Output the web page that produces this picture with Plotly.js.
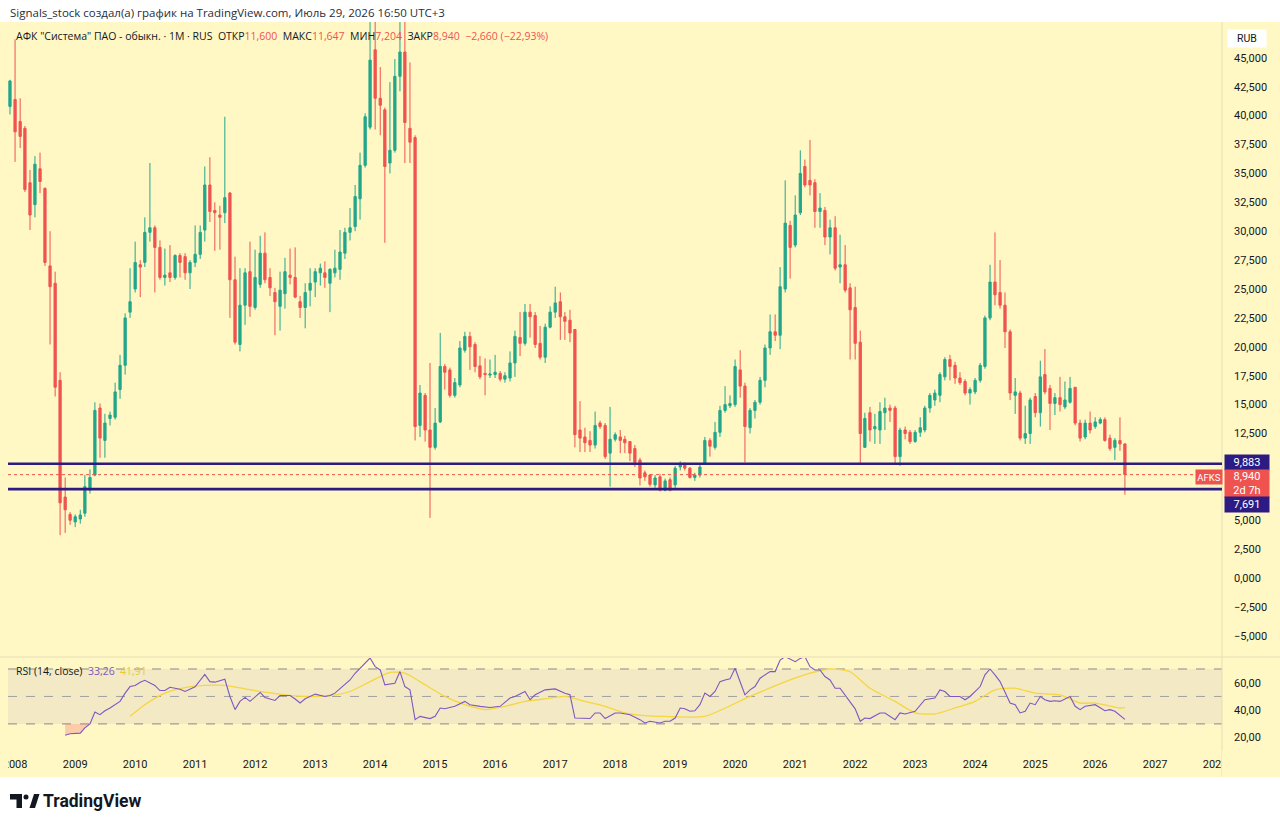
<!DOCTYPE html>
<html>
<head>
<meta charset="utf-8">
<script src="https://cdn.plot.ly/plotly-3.0.1.min.js"></script>
<style>
  html, body { margin: 0; padding: 0; background: #ffffff; }
  #chart { width: 1280px; height: 827px; }
</style>
</head>
<body>
<div id="chart"></div>
<script>
// AFKS monthly bars, first bar = December 2007
const FIRST_YEAR = 2007;
const FIRST_MONTH = 12;

const opens = [
  40.8, 41.4, 39.5, 38.9, 34.2, 32.3, 35.4, 33.7, 27.0, 25.5, 17.1, 7.0, 5.5,
  4.85, 5.1, 5.6, 7.6, 8.9, 14.7, 11.9, 13.8, 13.9, 16.3, 18.4, 23.0,
  25.0, 27.1, 27.3, 29.9, 30.3, 28.6, 26.0, 26.4, 26.0, 27.9, 27.8, 26.4,
  27.3, 28.0, 30.1, 34.0, 31.8, 31.4, 31.6, 33.3, 25.8, 20.2, 23.6, 26.5,
  23.4, 25.4, 28.1, 26.0, 24.7, 23.5, 24.6, 26.2, 26.0, 23.9, 23.4, 24.9,
  25.6, 26.4, 26.4, 25.5, 26.4, 26.7, 28.1, 29.9, 30.4, 32.8, 35.7, 39.0,
  45.7, 41.5, 40.5, 35.9, 37.0, 43.4, 45.5, 38.9, 38.1, 13.2, 15.8, 12.8,
  11.3, 13.5, 18.3, 18.0, 15.8, 16.7, 19.7, 20.9, 20.2, 18.35, 17.7, 17.55,
  17.6, 17.7, 17.2, 17.3, 18.6, 20.8, 20.3, 23.0, 22.7, 20.3, 19.1, 21.7,
  23.0, 23.9, 22.6, 22.3, 21.5, 12.8, 12.2, 11.9, 11.5, 13.4, 13.2, 10.8,
  12.0, 12.2, 12.0, 11.8, 11.2, 10.2, 9.1, 8.9, 8.05, 8.75, 7.6, 8.5,
  8.05, 9.6, 9.8, 9.5, 8.7, 8.9, 9.95, 11.9, 11.3, 12.6, 14.5, 14.9,
  15.0, 18.0, 16.6, 13.0, 14.5, 15.2, 17.1, 19.9, 21.3, 21.0, 25.0, 30.5, 28.8,
  31.6, 35.6, 34.4, 34.2, 31.7, 31.8, 29.5, 30.3, 26.9, 27.1, 25.1, 23.4, 20.4,
  11.3, 14.3, 12.9, 12.8, 14.3, 14.7, 14.7, 10.5, 12.8, 12.6, 11.8, 12.6,
  12.8, 14.7, 15.4, 15.8, 17.4, 18.9, 18.4, 17.3, 17.0, 16.0, 16.1, 17.1,
  18.3, 22.5, 25.6, 24.7, 23.6, 21.3, 15.8, 16.0, 12.1, 12.5, 15.7, 14.3,
  17.6, 16.4, 15.1, 15.6, 14.8, 15.2, 16.5, 13.4, 12.2, 13.4, 13.1, 13.4,
  13.7, 12.1, 11.3, 11.9, 11.600
];
const highs = [
  43.1, 46.6, 41.5, 39.1, 35.3, 36.5, 36.8, 33.8, 30.0, 26.5, 17.8, 8.7, 5.7,
  5.5, 5.9, 8.9, 9.4, 15.2, 15.1, 14.2, 14.4, 16.9, 19.3, 22.9, 26.8,
  29.1, 27.5, 31.2, 35.9, 30.5, 29.2, 28.5, 28.8, 28.0, 28.1, 28.1, 27.5,
  30.5, 30.5, 35.6, 36.4, 32.5, 32.2, 39.9, 33.4, 27.8, 26.8, 26.8, 29.1,
  28.4, 29.6, 29.9, 26.8, 25.1, 26.5, 27.7, 28.5, 28.6, 24.4, 25.5, 26.8,
  26.8, 27.2, 27.4, 26.8, 28.4, 30.1, 30.3, 32.0, 34.0, 36.8, 40.2, 49.5,
  49.5, 44.2, 40.7, 42.9, 44.9, 49.5, 49.5, 44.6, 38.3, 16.7, 16.0, 18.6,
  14.7, 21.2, 18.5, 18.2, 17.3, 20.5, 21.3, 21.3, 20.4, 19.2, 19.0, 18.9,
  19.3, 17.9, 17.8, 19.6, 21.4, 23.0, 23.7, 23.7, 23.0, 21.8, 22.0, 23.5,
  25.2, 24.7, 23.0, 23.2, 21.5, 15.3, 13.0, 12.7, 14.4, 13.6, 13.4, 14.8,
  12.6, 12.8, 12.3, 11.8, 11.5, 10.4, 9.3, 9.0, 8.9, 9.0, 8.6, 8.7,
  9.7, 10.1, 10.0, 9.6, 9.1, 9.8, 12.2, 12.1, 13.5, 14.9, 16.6, 15.8,
  18.9, 19.7, 16.9, 14.7, 15.4, 17.4, 20.2, 22.8, 22.8, 26.9, 34.4, 30.9, 33.1,
  37.0, 36.2, 37.9, 34.5, 33.3, 32.1, 31.0, 31.3, 29.7, 28.8, 25.5, 25.2, 21.4,
  14.3, 14.8, 14.2, 15.2, 15.6, 15.0, 14.9, 13.0, 13.1, 12.8, 12.8, 13.9,
  14.9, 16.0, 16.3, 17.8, 19.1, 19.3, 18.7, 17.8, 17.2, 16.5, 17.3, 18.6,
  22.7, 27.1, 29.9, 27.5, 24.7, 21.5, 17.3, 16.2, 14.9, 15.6, 16.0, 18.8,
  19.8, 16.7, 16.0, 17.4, 17.0, 17.4, 16.5, 13.7, 13.7, 14.4, 13.9, 13.9,
  13.9, 12.4, 12.1, 13.9, 11.647
];
const lows = [
  40.1, 36.0, 37.2, 33.4, 30.1, 31.2, 33.3, 27.0, 20.2, 15.7, 3.7, 3.9, 4.6,
  4.4, 4.7, 5.3, 7.3, 8.8, 10.4, 10.4, 13.2, 13.7, 15.5, 17.6, 22.5,
  24.7, 24.3, 26.9, 29.1, 24.7, 25.8, 25.3, 25.6, 25.8, 26.0, 25.8, 25.0,
  26.9, 27.6, 29.1, 30.8, 28.3, 28.4, 30.7, 22.5, 20.2, 19.6, 21.9, 22.6,
  23.2, 25.1, 25.5, 24.4, 21.0, 21.4, 23.3, 25.4, 24.2, 22.5, 21.6, 23.5,
  24.3, 25.3, 25.1, 23.0, 26.0, 25.8, 27.6, 29.2, 30.0, 31.0, 35.5, 38.8,
  38.8, 38.3, 29.0, 35.0, 36.8, 42.1, 35.9, 35.9, 11.9, 12.2, 11.8, 5.2,
  11.1, 13.4, 16.3, 15.6, 15.6, 16.5, 19.5, 18.0, 17.8, 17.2, 15.8, 17.3,
  17.3, 17.0, 16.9, 17.0, 17.4, 19.2, 20.1, 20.8, 19.9, 18.9, 18.6, 21.6,
  22.5, 20.6, 20.6, 20.4, 11.3, 10.9, 10.9, 10.9, 11.2, 12.9, 10.3, 7.9,
  11.8, 10.8, 10.8, 10.1, 9.6, 8.0, 8.4, 7.9, 7.8, 7.5, 7.5, 7.5,
  7.7, 9.3, 9.3, 8.6, 8.4, 8.7, 9.8, 10.5, 11.1, 12.2, 14.3, 14.7,
  14.8, 15.6, 10.0, 12.5, 13.8, 15.0, 16.5, 19.3, 20.5, 19.8, 24.7, 25.9, 28.6,
  31.4, 33.8, 33.1, 30.3, 30.3, 28.8, 28.0, 26.6, 25.5, 24.7, 18.9, 18.9, 9.9,
  11.3, 11.8, 11.6, 11.6, 12.8, 13.5, 9.9, 9.7, 12.0, 11.6, 11.7, 12.2,
  12.6, 14.3, 14.9, 15.2, 17.1, 17.1, 16.8, 16.7, 15.8, 15.0, 15.9, 16.9,
  18.1, 22.3, 23.6, 23.3, 19.9, 15.4, 14.2, 11.9, 11.6, 11.6, 13.9, 13.1,
  15.9, 12.8, 14.1, 14.4, 14.6, 15.1, 13.2, 11.8, 12.0, 12.5, 12.9, 13.3,
  11.8, 11.0, 10.2, 11.0, 7.204
];
const closes = [
  43.0, 38.6, 38.2, 33.6, 31.4, 35.8, 34.3, 27.3, 25.2, 16.5, 6.5, 5.9, 5.0,
  5.3, 5.45, 7.9, 8.7, 14.5, 12.1, 13.4, 14.1, 16.1, 18.4, 22.5, 23.9,
  27.3, 26.9, 29.9, 30.3, 28.6, 26.0, 26.2, 26.0, 27.9, 27.3, 26.4, 27.3,
  28.0, 29.9, 34.0, 31.7, 31.6, 31.2, 32.9, 25.8, 20.4, 23.6, 26.4, 23.5,
  26.0, 28.1, 25.8, 25.1, 23.9, 24.9, 26.5, 26.0, 24.3, 23.4, 24.7, 25.5,
  26.5, 26.8, 26.0, 26.7, 26.8, 28.2, 29.9, 30.3, 33.0, 35.7, 39.9, 44.8,
  41.5, 40.9, 35.6, 37.0, 43.4, 45.5, 39.4, 37.7, 13.1, 16.0, 12.8, 11.3,
  13.4, 18.3, 17.8, 15.8, 16.9, 19.9, 20.9, 20.0, 18.3, 17.4, 17.6, 17.65,
  17.8, 17.2, 17.5, 18.6, 20.9, 20.3, 23.0, 22.6, 20.2, 19.1, 21.7, 23.0,
  23.8, 22.6, 22.2, 21.2, 12.4, 12.1, 11.7, 11.5, 13.2, 13.1, 10.5, 12.0,
  12.4, 11.9, 11.7, 10.8, 10.0, 8.65, 8.75, 8.1, 8.65, 7.6, 8.4, 7.6,
  9.5, 9.85, 9.5, 8.7, 8.9, 9.6, 11.9, 11.4, 12.6, 14.5, 15.0, 15.1,
  18.3, 16.6, 13.1, 14.5, 15.2, 17.1, 19.9, 21.3, 21.0, 25.2, 30.7, 28.6, 31.4,
  35.0, 34.0, 34.0, 31.7, 32.0, 29.5, 30.3, 26.8, 27.1, 24.9, 23.2, 20.3, 12.5,
  13.8, 12.8, 13.1, 14.4, 14.7, 14.5, 10.5, 12.8, 12.5, 11.8, 12.6, 13.0,
  14.7, 15.8, 16.0, 17.6, 18.9, 18.3, 17.3, 16.9, 16.0, 16.3, 17.1, 18.4,
  22.5, 25.6, 24.5, 23.6, 21.3, 16.0, 16.1, 12.1, 12.5, 15.4, 14.3, 17.4,
  16.1, 15.1, 15.6, 15.0, 15.4, 16.4, 13.4, 12.1, 13.4, 12.8, 13.5, 13.7,
  11.9, 11.2, 11.9, 11.6, 8.940
];

// RSI (14, close): bar number -> value
const rsiBars = [
  11, 12, 14, 15, 16, 17, 18, 19, 20, 22, 23, 24, 25, 26, 27, 29, 30, 31, 32, 34,
  35, 36, 37, 39, 40, 41, 43, 44, 45, 46, 47, 48, 50, 51, 53, 54, 56, 57, 58, 59,
  61, 63, 64, 65, 67, 68, 69, 70, 72, 73, 74, 75, 77, 78, 79, 80, 81, 82, 84, 85,
  86, 87, 89, 91, 92, 94, 96, 98, 100, 101, 103, 104, 105, 107, 109, 111, 112, 113, 114, 116,
  117, 118, 119, 121, 122, 124, 126, 127, 128, 130, 131, 132, 133, 134, 135, 136, 137, 138, 139, 140,
  141, 142, 143, 144, 145, 147, 148, 149, 150, 152, 153, 154, 155, 157, 158, 159, 160, 161, 162, 163,
  164, 165, 166, 167, 168, 169, 170, 171, 172, 174, 175, 177, 178, 179, 181, 182, 183, 185, 186, 187,
  188, 190, 191, 192, 194, 195, 196, 197, 198, 200, 201, 202, 203, 204, 205, 206, 207, 208, 209, 210,
  212, 213, 214, 215, 216, 217, 219, 220, 221, 223
];
const rsiValues = [
  21.8, 22.8, 23.3, 27.1, 30.0, 38.7, 36.7, 39.6, 41.6, 46.4, 52.4, 57.2, 58.0, 60.4, 61.8, 58.0, 54.3, 54.3, 56.7, 55.3,
  53.6, 55.3, 57.0, 66.1, 60.8, 60.4, 62.5, 50.0, 40.4, 46.4, 49.3, 46.4, 52.9, 49.3, 47.1, 50.7, 50.7, 48.1, 45.2, 48.3,
  51.7, 50.0, 50.7, 52.4, 58.4, 62.0, 66.9, 70.5, 78.0, 71.7, 69.3, 58.4, 59.6, 68.1, 57.2, 54.8, 33.1, 35.5, 33.9, 35.5,
  41.6, 41.1, 42.8, 46.4, 44.0, 42.8, 42.0, 42.8, 48.8, 50.0, 53.6, 47.6, 51.2, 54.8, 55.5, 52.4, 51.2, 34.3, 34.3, 33.9,
  38.0, 38.0, 33.9, 38.0, 38.0, 36.7, 33.1, 30.7, 31.9, 30.7, 31.9, 31.9, 34.3, 41.6, 41.1, 39.2, 39.6, 44.0, 52.4, 50.0,
  53.6, 60.8, 62.0, 62.8, 70.5, 51.2, 54.8, 57.2, 63.3, 68.1, 68.1, 76.5, 79.0, 75.3, 77.7, 79.0, 71.7, 69.3, 69.3, 64.5,
  62.0, 56.0, 56.0, 51.2, 46.4, 41.0, 31.9, 34.3, 33.9, 38.0, 38.0, 33.1, 38.0, 37.2, 39.2, 44.0, 47.6, 48.8, 54.8, 53.6,
  50.0, 50.0, 47.6, 50.0, 57.2, 65.7, 70.0, 65.7, 60.8, 45.2, 44.0, 38.0, 39.2, 45.2, 44.0, 50.0, 47.6, 46.4, 46.9, 46.4,
  50.0, 42.8, 40.4, 42.8, 43.5, 44.0, 39.6, 40.4, 39.2, 33.26
];
// RSI moving average
const maBars = [
  24, 27, 31, 35, 39, 43, 47, 51, 55, 59, 64, 68, 72, 76, 79, 82, 87, 91, 95, 99,
  103, 107, 111, 115, 119, 123, 127, 131, 139, 148, 156, 160, 164, 168, 172, 177, 181, 185, 189, 193,
  197, 201, 205, 210, 214, 217, 222, 223
];
const maValues = [
  35.5, 44.0, 52.4, 56.5, 58.0, 58.0, 55.5, 53.1, 51.2, 50.0, 50.7, 53.6, 60.8, 67.6, 66.9, 60.8, 50.0, 44.0, 40.4, 42.8,
  46.4, 48.3, 50.0, 46.4, 42.8, 38.0, 36.0, 35.5, 35.5, 50.0, 62.0, 66.9, 70.0, 68.0, 56.0, 46.4, 38.0, 37.2, 41.6, 46.4,
  54.8, 56.0, 52.4, 51.2, 45.2, 45.2, 41.6, 41.91
];

// Price-scale tick values
const priceTicks = [-5, -2.5, 0, 2.5, 5, 7.5, 10, 12.5, 15, 17.5, 20, 22.5, 25, 27.5, 30, 32.5, 35, 37.5, 40, 42.5, 45];
const rsiTicks = [20, 40, 60];

// Horizontal levels
const levelUpper = 9.883;
const levelLower = 7.691;

// Colours
const BG = '#FFF8C5';
const UP = '#22A68B';
const DOWN = '#EF5350';
const LEVEL = '#2D1B84';
const RSI_LINE = '#7E57C2';
const MA_LINE = '#F5D63D';
const TEXT = '#131722';

function monthOf(i) {
  const m0 = (FIRST_MONTH - 1) + i;
  const y = FIRST_YEAR + Math.floor(m0 / 12);
  const m = (m0 % 12) + 1;
  return y + '-' + String(m).padStart(2, '0') + '-01';
}
const months = opens.map((_, i) => monthOf(i));

function fmt(v, d) {
  const s = Math.abs(v).toFixed(d).replace('.', ',');
  return (v < 0 ? '\u2212' : '') + s;
}

// pixel helpers for paper coordinates (plot area: x 8..1222, y 22..750)
const L = 8, R = 58, T = 22, B = 77, W = 1280, H = 827;
const PW = W - L - R, PH = H - T - B;
const px = x => (x - L) / PW;
const py = y => (H - B - y) / PH;

const mainBottom = py(656);
const rsiTop = py(658);

const last = closes.length - 1;
const change = closes[last] - closes[last - 1];
const changePct = change / closes[last - 1] * 100;

const traces = [
  {
    type: 'candlestick',
    x: months, open: opens, high: highs, low: lows, close: closes,
    xaxis: 'x', yaxis: 'y',
    increasing: { line: { color: UP, width: 1 }, fillcolor: UP },
    decreasing: { line: { color: DOWN, width: 1 }, fillcolor: DOWN },
    whiskerwidth: 0,
    hoverinfo: 'skip'
  }
];

// oversold shading (RSI under 30)
const osBars = rsiBars.filter((b, i) => rsiValues[i] <= 30);
const osVals = rsiValues.filter(v => v <= 30);
traces.push({
  type: 'scatter', mode: 'lines', xaxis: 'x', yaxis: 'y2',
  x: osBars.map(b => months[b]), y: osBars.map(() => 30),
  line: { width: 0 }, hoverinfo: 'skip'
});
traces.push({
  type: 'scatter', mode: 'lines', xaxis: 'x', yaxis: 'y2',
  x: osBars.map(b => months[b]), y: osVals,
  line: { width: 0 }, fill: 'tonexty', fillcolor: 'rgba(242,90,90,0.28)', hoverinfo: 'skip'
});
traces.push({
  type: 'scatter', mode: 'lines', xaxis: 'x', yaxis: 'y2',
  x: maBars.map(b => months[b]), y: maValues,
  line: { color: MA_LINE, width: 1.3, shape: 'spline', smoothing: 0.6 }, hoverinfo: 'skip'
});
traces.push({
  type: 'scatter', mode: 'lines', xaxis: 'x', yaxis: 'y2',
  x: rsiBars.map(b => months[b]), y: rsiValues,
  line: { color: RSI_LINE, width: 1.1 }, hoverinfo: 'skip'
});

const shapes = [
  // full chart background incl. axis strips
  { type: 'rect', xref: 'paper', yref: 'paper', x0: px(0), x1: px(1280), y0: py(777), y1: py(22),
    fillcolor: BG, line: { width: 0 }, layer: 'below' },
  // RSI band 30..70
  { type: 'rect', xref: 'paper', yref: 'y2', x0: 0, x1: 1, y0: 30, y1: 70,
    fillcolor: 'rgba(126,87,194,0.09)', line: { width: 0 }, layer: 'below' },
  { type: 'line', xref: 'paper', yref: 'y2', x0: 0, x1: 1, y0: 70, y1: 70, line: { color: '#8a8a8a', width: 1, dash: 'dash' }, layer: 'below' },
  { type: 'line', xref: 'paper', yref: 'y2', x0: 0, x1: 1, y0: 50, y1: 50, line: { color: '#a0a0a0', width: 1, dash: 'dash' }, layer: 'below' },
  { type: 'line', xref: 'paper', yref: 'y2', x0: 0, x1: 1, y0: 30, y1: 30, line: { color: '#8a8a8a', width: 1, dash: 'dash' }, layer: 'below' },
  // pane separators
  { type: 'line', xref: 'paper', yref: 'paper', x0: px(0), x1: px(1280), y0: py(657), y1: py(657), line: { color: '#E6DFB4', width: 1 } },
  { type: 'line', xref: 'paper', yref: 'paper', x0: 1, x1: 1, y0: py(777), y1: py(22), line: { color: '#E6DFB4', width: 1 } },
  // last price line
  { type: 'line', xref: 'paper', yref: 'y', x0: 0, x1: 1, y0: closes[last], y1: closes[last], line: { color: DOWN, width: 1, dash: 'dot' } },
  // support / resistance levels
  { type: 'line', xref: 'paper', yref: 'y', x0: 0, x1: 1, y0: levelUpper, y1: levelUpper, line: { color: LEVEL, width: 2.6 } },
  { type: 'line', xref: 'paper', yref: 'y', x0: 0, x1: 1, y0: levelLower, y1: levelLower, line: { color: LEVEL, width: 2.6 } },
  // time-axis strip edges
  { type: 'rect', xref: 'paper', yref: 'paper', x0: 1, x1: px(1280), y0: py(777), y1: py(751),
    fillcolor: BG, line: { width: 0 }, layer: 'above' },
  { type: 'rect', xref: 'paper', yref: 'paper', x0: px(0), x1: px(8), y0: py(777), y1: py(751),
    fillcolor: BG, line: { width: 0 }, layer: 'above' },
  // TradingView logo mark
  { type: 'path', xref: 'paper', yref: 'paper',
    path: `M ${px(10)} ${py(794)} L ${px(22)} ${py(794)} L ${px(22)} ${py(808)} L ${px(16.5)} ${py(808)} L ${px(16.5)} ${py(799.5)} L ${px(10)} ${py(799.5)} Z`,
    fillcolor: TEXT, line: { width: 0 } },
  { type: 'circle', xref: 'paper', yref: 'paper', x0: px(23.5), x1: px(28.5), y0: py(799.5), y1: py(794.5),
    fillcolor: TEXT, line: { width: 0 } },
  { type: 'path', xref: 'paper', yref: 'paper',
    path: `M ${px(29.5)} ${py(808)} L ${px(34)} ${py(794)} L ${px(39.5)} ${py(794)} L ${px(35)} ${py(808)} Z`,
    fillcolor: TEXT, line: { width: 0 } }
];

const red = s => `<span style="color:${DOWN}">${s}</span>`;
const sp = '\u00A0';
const legendText =
  'АФК "Система" ПАО - обыкн.' + sp + '·' + sp + '1M' + sp + '·' + sp + 'RUS' + sp + sp +
  'ОТКР' + red(fmt(opens[last], 3)) + sp + sp +
  'МАКС' + red(fmt(highs[last], 3)) + sp + sp +
  'МИН' + red(fmt(lows[last], 3)) + sp + sp +
  'ЗАКР' + red(fmt(closes[last], 3)) + sp + sp +
  red(fmt(change, 3) + sp + '(' + fmt(changePct, 2) + '%)');

const rsiLegend = 'RSI (14, close)' + sp + sp +
  `<span style="color:${RSI_LINE}">${fmt(rsiValues[rsiValues.length - 1], 2)}</span>` + sp + sp +
  `<span style="color:#E8C930">${fmt(maValues[maValues.length - 1], 2)}</span>`;

const tag = (x, y, w, h, text, bg, color, size) => ({
  xref: 'paper', yref: 'paper', x: px(x), y: py(y), xanchor: 'center', yanchor: 'middle',
  text, showarrow: false, bgcolor: bg, width: w, height: h, borderpad: 0,
  font: { size: size || 11, color: color || '#ffffff', family: 'Roboto, sans-serif' }
});

const annotations = [
  { xref: 'paper', yref: 'paper', x: px(8), y: py(12), xanchor: 'left', yanchor: 'middle', showarrow: false,
    text: 'Signals_stock создал(а) график на TradingView.com, Июль 29, 2026 16:50 UTC+3',
    font: { size: 11.5, color: '#2a2e39', family: '"Open Sans", Roboto, sans-serif' } },
  { xref: 'paper', yref: 'paper', x: px(14), y: py(36), xanchor: 'left', yanchor: 'middle', showarrow: false,
    text: legendText, font: { size: 10.5, color: TEXT, family: '"Open Sans", Roboto, sans-serif' } },
  { xref: 'paper', yref: 'paper', x: px(14), y: py(671), xanchor: 'left', yanchor: 'middle', showarrow: false,
    text: rsiLegend, font: { size: 10.5, color: TEXT, family: '"Open Sans", Roboto, sans-serif' } },
  tag(1247, 38, 38, 17, 'RUB', '#ffffff', TEXT, 10.5),
  tag(1247, 462, 44, 15, fmt(levelUpper, 3), LEVEL),
  tag(1247, 483, 44, 27, fmt(closes[last], 3) + '<br>2d 7h', DOWN),
  tag(1247, 504, 44, 15, fmt(levelLower, 3), LEVEL),
  tag(1209, 477, 26, 14, 'AFKS', DOWN, '#ffffff', 9.5),
  { xref: 'paper', yref: 'paper', x: px(41), y: py(801), xanchor: 'left', yanchor: 'middle', showarrow: false,
    text: '<b>TradingView</b>', font: { size: 17.5, color: TEXT, family: 'Roboto, "Open Sans", sans-serif' } }
];

const layout = {
  width: W, height: H,
  margin: { l: L, r: R, t: T, b: B, pad: 0 },
  paper_bgcolor: '#ffffff',
  plot_bgcolor: BG,
  separators: ', ',
  showlegend: false,
  font: { family: 'Roboto, "Open Sans", sans-serif', size: 11, color: TEXT },
  xaxis: {
    type: 'date', anchor: 'y2',
    range: ['2007-11-19', '2028-02-12'],
    tick0: '2008-01-01', dtick: 'M12', tickformat: '%Y',
    showgrid: false, zeroline: false, showline: false, ticks: '',
    ticklabelstandoff: 6,
    rangeslider: { visible: false }, fixedrange: true,
    tickfont: { size: 11, color: TEXT }
  },
  yaxis: {
    domain: [mainBottom, 1], side: 'right', anchor: 'x',
    range: [-6.75, 48.1], tickmode: 'array', tickvals: priceTicks, tickformat: '.3f',
    showgrid: false, zeroline: false, showline: false, ticks: '',
    ticklabelstandoff: 11, fixedrange: true,
    tickfont: { size: 11, color: TEXT }
  },
  yaxis2: {
    domain: [0, rsiTop], side: 'right', anchor: 'x',
    range: [11, 78], tickmode: 'array', tickvals: rsiTicks, tickformat: '.2f',
    showgrid: false, zeroline: false, showline: false, ticks: '',
    ticklabelstandoff: 11, fixedrange: true,
    tickfont: { size: 11, color: TEXT }
  },
  shapes, annotations
};

Plotly.newPlot('chart', traces, layout, { staticPlot: true, displayModeBar: false });
</script>
</body>
</html>
